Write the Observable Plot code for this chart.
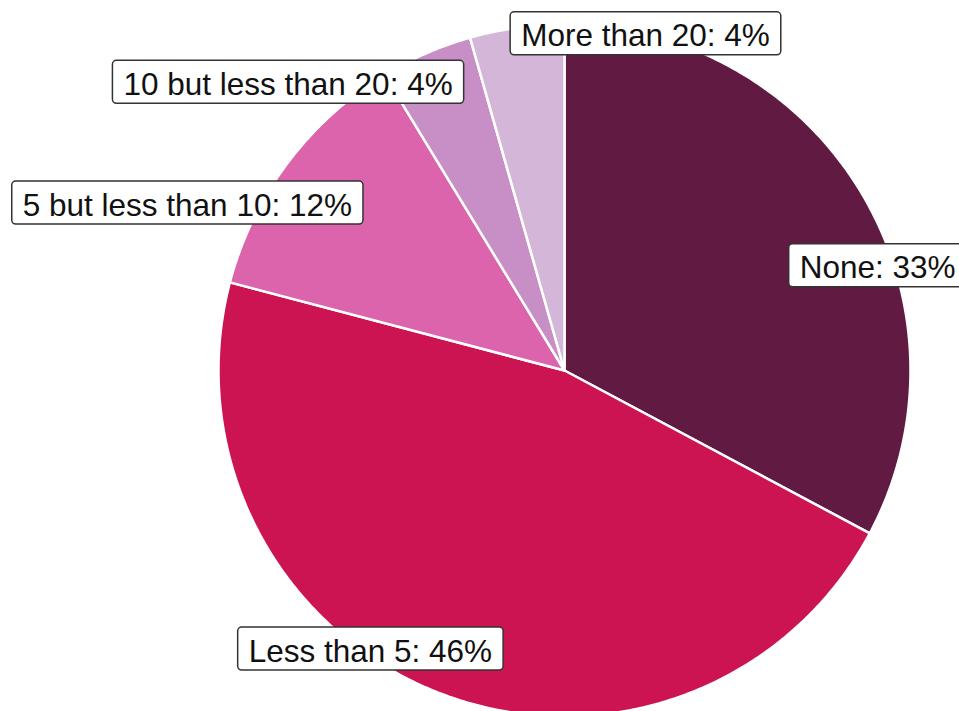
<!DOCTYPE html>
<html>
<head>
<meta charset="utf-8">
<script src="https://cdn.jsdelivr.net/npm/d3@7"></script>
<script src="https://cdn.jsdelivr.net/npm/@observablehq/plot@0.6"></script>
<style>
  html, body { margin: 0; padding: 0; background: #fff; overflow: hidden; }
  #chart { width: 959px; height: 711px; }
</style>
</head>
<body>
<div id="chart"></div>
<script>
// ---- data ----
const categories = ["None", "Less than 5", "5 but less than 10", "10 but less than 20", "More than 20"];
const shares = [32.8, 46.3, 12.2, 4.3, 4.4]; // percent of respondents

// ---- styling / layout (kept separate from data) ----
const palette = ["#611a42", "#cd1452", "#dc64ac", "#c88fc6", "#d4b6d9"];
// label anchor positions in pie-radius units (x right, y up), per category
const labelX = [0.905, -0.561, -1.090, -0.799, 0.234];
const labelY = [0.296, -0.812, 0.477, 0.826, 0.966];

// ---- build slices from the values (clockwise from 12 o'clock) ----
const total = d3.sum(shares);
const slicePts = [];
let acc = 0;
categories.forEach((cat, i) => {
  const a0 = acc / total * 2 * Math.PI;
  acc += shares[i];
  const a1 = acc / total * 2 * Math.PI;
  const steps = Math.max(2, Math.ceil((a1 - a0) / (Math.PI / 360)));
  slicePts.push({cat, x: 0, y: 0});
  for (let k = 0; k <= steps; k++) {
    const a = a0 + (a1 - a0) * k / steps;
    slicePts.push({cat, x: Math.sin(a), y: Math.cos(a)});
  }
  slicePts.push({cat, x: 0, y: 0});
});

const labels = categories.map((cat, i) => ({
  cat,
  text: `${cat}: ${Math.round(shares[i])}%`,
  x: labelX[i],
  y: labelY[i]
}));

const plot = Plot.plot({
  width: 959,
  height: 711,
  margin: 0,
  style: {background: "white", overflow: "hidden"},
  x: {domain: [-1, 1], range: [218, 910], axis: null},
  y: {domain: [-1, 1], range: [716, 24], axis: null},
  color: {type: "ordinal", domain: categories, range: palette},
  marks: [
    Plot.line(slicePts, {
      x: "x", y: "y", z: "cat", fill: "cat",
      stroke: "white", strokeWidth: 2.5, strokeLinejoin: "round", curve: "linear"
    }),
    Plot.text(labels, {
      x: "x", y: "y", text: "text",
      fontSize: 31.5, fill: "#111",
      fontFamily: "'Liberation Sans', Arial, sans-serif",
      textAnchor: "middle"
    })
  ]
});

document.getElementById("chart").appendChild(plot);

// draw rounded label boxes behind each label text
const textGroups = plot.querySelectorAll('g[aria-label="text"]');
textGroups.forEach(g => {
  g.querySelectorAll("text").forEach(t => {
    const bb = t.getBBox();
    const r = document.createElementNS("http://www.w3.org/2000/svg", "rect");
    r.setAttribute("x", bb.x - 11);
    r.setAttribute("y", bb.y - 5.5);
    r.setAttribute("width", bb.width + 22);
    r.setAttribute("height", bb.height + 7);
    r.setAttribute("rx", 4);
    r.setAttribute("fill", "white");
    r.setAttribute("stroke", "#333");
    r.setAttribute("stroke-width", 1.5);
    const tr = t.getAttribute("transform");
    if (tr) r.setAttribute("transform", tr);
    g.insertBefore(r, t);
  });
});
</script>
</body>
</html>
